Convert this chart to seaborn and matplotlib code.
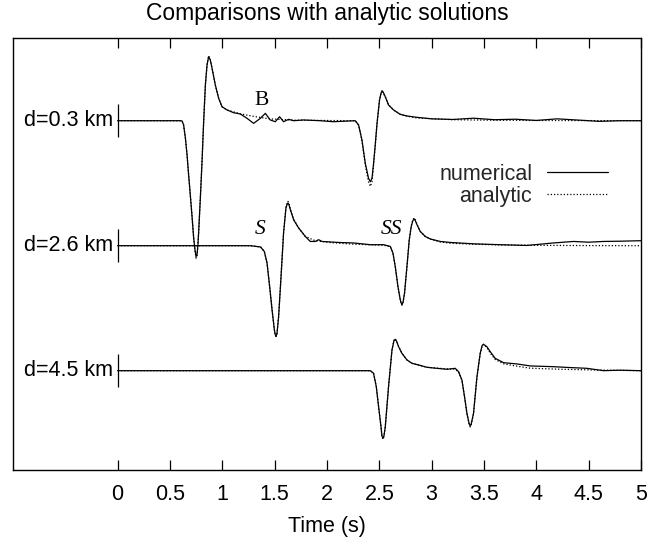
import matplotlib
matplotlib.use("Agg")
import numpy as np
import pandas as pd
import matplotlib.pyplot as plt
import seaborn as sns

# ---------------- data ----------------
trace_labels = ["d=0.3 km", "d=2.6 km", "d=4.5 km"]
trace_offsets = [3.0, 2.0, 1.0]

t03_num = [0.0, 0.601, 0.615, 0.630, 0.647, 0.663, 0.678, 0.694, 0.711, 0.726,
           0.739, 0.749, 0.758, 0.766, 0.774, 0.790, 0.806, 0.821, 0.838, 0.854,
           0.869, 0.885, 0.902, 0.933, 0.965, 0.997, 1.045, 1.108, 1.172, 1.236,
           1.299, 1.363, 1.411, 1.458, 1.506, 1.547, 1.585, 1.633, 1.681, 1.774,
           1.936, 2.060, 2.270, 2.302, 2.334, 2.366, 2.397, 2.414, 2.430, 2.445,
           2.461, 2.478, 2.502, 2.516, 2.525, 2.535, 2.557, 2.588, 2.636, 2.700,
           2.764, 2.860, 3.0, 3.2, 3.4, 3.6, 3.8, 4.0, 4.2, 4.4,
           4.6, 4.8, 5.0]
a03_num = [0, 0, -0.002, -0.034, -0.138, -0.274, -0.434, -0.594, -0.770, -0.938,
           -1.034, -1.088, -1.074, -1.002, -0.888, -0.618, -0.328, -0.018, 0.286, 0.446,
           0.512, 0.486, 0.419, 0.286, 0.179, 0.112, 0.086, 0.064, 0.054, 0.019,
           -0.021, 0.019, 0.059, 0.006, -0.008, 0.032, -0.008, 0.011, 0.0, 0.006,
           0.0, -0.008, 0.0, -0.034, -0.154, -0.341, -0.461, -0.488, -0.461, -0.341,
           -0.194, -0.021, 0.166, 0.219, 0.240, 0.232, 0.192, 0.126, 0.086, 0.051,
           0.038, 0.027, 0.015, 0.010, 0.020, 0.008, 0.012, 0.002, 0.015, 0.005,
           -0.005, 0.0, 0.0]
t03_ana = [0.0, 0.601, 0.615, 0.630, 0.647, 0.663, 0.678, 0.694, 0.711, 0.726,
           0.739, 0.749, 0.758, 0.766, 0.774, 0.790, 0.806, 0.821, 0.838, 0.854,
           0.869, 0.885, 0.902, 0.933, 0.965, 0.997, 1.045, 1.172, 1.299, 1.45,
           1.70, 2.270, 2.302, 2.334, 2.366, 2.397, 2.414, 2.430, 2.445, 2.461,
           2.478, 2.502, 2.516, 2.525, 2.535, 2.557, 2.588, 2.636, 2.700, 2.764,
           2.860, 3.2, 3.6, 4.0, 5.0]
a03_ana = [0, 0, -0.002, -0.034, -0.138, -0.274, -0.434, -0.594, -0.770, -0.938,
           -1.04, -1.10, -1.08, -1.005, -0.888, -0.618, -0.328, -0.018, 0.286, 0.45,
           0.52, 0.49, 0.419, 0.286, 0.179, 0.112, 0.086, 0.055, 0.035, 0.015,
           0.004, 0.0, -0.036, -0.16, -0.355, -0.49, -0.525, -0.49, -0.355, -0.2,
           -0.025, 0.166, 0.215, 0.232, 0.225, 0.19, 0.126, 0.086, 0.051, 0.036,
           0.022, 0.008, 0.004, 0.002, 0.0]

t26_num = [0.0, 1.267, 1.365, 1.401, 1.427, 1.452, 1.475, 1.497, 1.505, 1.513,
           1.522, 1.538, 1.561, 1.585, 1.608, 1.618, 1.627, 1.637, 1.650, 1.681,
           1.729, 1.793, 1.840, 1.888, 1.920, 1.952, 2.032, 2.111, 2.254, 2.414,
           2.541, 2.605, 2.630, 2.652, 2.678, 2.700, 2.707, 2.716, 2.726, 2.741,
           2.764, 2.786, 2.805, 2.821, 2.834, 2.843, 2.860, 2.891, 2.939, 2.987,
           3.082, 3.178, 3.40, 3.656, 3.910, 4.164, 4.355, 4.50, 4.642, 4.80,
           5.0]
a26_num = [0, 0, -0.010, -0.046, -0.138, -0.326, -0.512, -0.672, -0.71, -0.726,
           -0.704, -0.566, -0.246, 0.102, 0.302, 0.328, 0.342, 0.328, 0.288, 0.208,
           0.142, 0.074, 0.034, 0.034, 0.048, 0.034, 0.030, 0.026, 0.022, 0.008,
           0.008, -0.006, -0.058, -0.166, -0.326, -0.432, -0.454, -0.472, -0.454, -0.378,
           -0.166, 0.048, 0.154, 0.202, 0.214, 0.202, 0.168, 0.114, 0.074, 0.054,
           0.034, 0.026, 0.015, 0.008, 0.002, 0.022, 0.034, 0.028, 0.034, 0.036,
           0.040]
t26_ana = [0.0, 1.267, 1.365, 1.401, 1.427, 1.452, 1.475, 1.497, 1.505, 1.513,
           1.522, 1.538, 1.561, 1.585, 1.608, 1.618, 1.627, 1.637, 1.650, 1.681,
           1.729, 1.793, 1.888, 2.032, 2.254, 2.541, 2.605, 2.630, 2.652, 2.678,
           2.700, 2.707, 2.716, 2.726, 2.741, 2.764, 2.786, 2.805, 2.821, 2.834,
           2.843, 2.860, 2.891, 2.939, 2.987, 3.082, 3.178, 3.40, 3.656, 4.0,
           4.5, 5.0]
a26_ana = [0, 0, -0.010, -0.046, -0.138, -0.326, -0.512, -0.672, -0.71, -0.726,
           -0.704, -0.566, -0.246, 0.102, 0.31, 0.34, 0.355, 0.338, 0.295, 0.212,
           0.142, 0.074, 0.04, 0.025, 0.012, 0.004, -0.008, -0.06, -0.168, -0.33,
           -0.436, -0.458, -0.476, -0.458, -0.38, -0.168, 0.048, 0.16, 0.21, 0.222,
           0.21, 0.172, 0.114, 0.074, 0.052, 0.03, 0.02, 0.012, 0.006, 0.003,
           0.001, 0.0]

t45_num = [0.0, 2.414, 2.445, 2.471, 2.493, 2.516, 2.525, 2.535, 2.544, 2.557,
           2.588, 2.621, 2.640, 2.652, 2.665, 2.684, 2.716, 2.764, 2.812, 2.875,
           2.955, 3.051, 3.146, 3.225, 3.257, 3.289, 3.314, 3.337, 3.359, 3.369,
           3.378, 3.400, 3.433, 3.464, 3.483, 3.496, 3.509, 3.528, 3.560, 3.607,
           3.687, 3.815, 3.942, 4.164, 4.30, 4.483, 4.642, 4.80, 5.0]
a45_num = [0, 0, -0.021, -0.128, -0.288, -0.448, -0.522, -0.541, -0.522, -0.448,
           -0.128, 0.166, 0.240, 0.251, 0.235, 0.192, 0.139, 0.086, 0.059, 0.046,
           0.027, 0.019, 0.011, 0.019, -0.008, -0.074, -0.208, -0.341, -0.426, -0.442,
           -0.426, -0.341, -0.048, 0.139, 0.203, 0.211, 0.203, 0.192, 0.152, 0.099,
           0.064, 0.054, 0.038, 0.032, 0.026, 0.019, 0.0, 0.004, 0.0]
t45_ana = [0.0, 2.414, 2.445, 2.471, 2.493, 2.516, 2.525, 2.535, 2.544, 2.557,
           2.588, 2.621, 2.640, 2.652, 2.665, 2.684, 2.716, 2.764, 2.812, 2.875,
           2.955, 3.051, 3.146, 3.225, 3.257, 3.289, 3.314, 3.337, 3.359, 3.369,
           3.378, 3.400, 3.433, 3.464, 3.483, 3.496, 3.509, 3.528, 3.560, 3.607,
           3.687, 3.815, 3.942, 4.2, 4.6, 5.0]
a45_ana = [0, 0, -0.021, -0.128, -0.288, -0.448, -0.528, -0.548, -0.528, -0.448,
           -0.128, 0.166, 0.243, 0.255, 0.238, 0.195, 0.139, 0.086, 0.059, 0.044,
           0.028, 0.02, 0.015, 0.012, -0.01, -0.076, -0.21, -0.345, -0.433, -0.45,
           -0.433, -0.345, -0.05, 0.139, 0.203, 0.211, 0.2, 0.185, 0.14, 0.09,
           0.055, 0.036, 0.02, 0.012, 0.005, 0.0]

x_ticks = [0, 0.5, 1, 1.5, 2, 2.5, 3, 3.5, 4, 4.5, 5]
x_tick_labels = ["0", "0.5", "1", "1.5", "2", "2.5", "3", "3.5", "4", "4.5", "5"]

phase_labels = ["B", "S", "SS"]
phase_t = [1.379, 1.363, 2.621]
phase_y = [3.158, 2.128, 2.128]
phase_italic = [False, True, True]

# ---------------- build long table ----------------
num_series = [(t03_num, a03_num), (t26_num, a26_num), (t45_num, a45_num)]
ana_series = [(t03_ana, a03_ana), (t26_ana, a26_ana), (t45_ana, a45_ana)]
rows = []
for lab, off, (tn, an), (ta, aa) in zip(trace_labels, trace_offsets, num_series, ana_series):
    rows.append(pd.DataFrame({"t": tn, "y": np.array(an) + off, "trace": lab, "kind": "numerical"}))
    rows.append(pd.DataFrame({"t": ta, "y": np.array(aa) + off, "trace": lab, "kind": "analytic"}))
df = pd.concat(rows, ignore_index=True)

# ---------------- figure ----------------
sns.set_theme(style="white")
plt.rcParams["font.family"] = ["Liberation Sans", "DejaVu Sans"]

fig = plt.figure(figsize=(6.47, 5.37), dpi=100)
ax = fig.add_axes([0.0201, 0.1248, 0.9706, 0.8044])

FS = 15.5
styles = {"numerical": "-", "analytic": (0, (1, 1.6))}
handles = {}
for lab in trace_labels:
    for kind in ["analytic", "numerical"]:
        sub = df[(df.trace == lab) & (df.kind == kind)]
        sns.lineplot(data=sub, x="t", y="y", ax=ax, color="black", lw=0.9,
                     linestyle=styles[kind], estimator=None, sort=False, legend=False)
        handles[kind] = ax.lines[-1]

for lab, off in zip(trace_labels, trace_offsets):
    ax.vlines(0, off - 0.13, off + 0.13, color="black", lw=0.9)
    ax.text(-0.045, off, lab, ha="right", va="center", fontsize=FS, color="black")

for lab, tx, ty, it in zip(phase_labels, phase_t, phase_y, phase_italic):
    ax.text(tx, ty, lab, ha="center", va="center", fontsize=15.5,
            family="Liberation Serif", style="italic" if it else "normal", color="black")

ax.set_xlim(-1.0, 5.0)
ax.set_ylim(0.2056, 3.6616)
ax.set_xticks(x_ticks)
ax.set_xticklabels(x_tick_labels)
ax.set_yticks([])
ax.tick_params(axis="x", direction="in", length=7, width=0.9, top=True, bottom=True,
               labelsize=FS, pad=10, colors="black")
for s in ax.spines.values():
    s.set_visible(True)
    s.set_color("black")
    s.set_linewidth(1.0)
ax.set_xlabel("Time (s)", fontsize=FS, color="black", labelpad=8)
ax.set_ylabel("")
ax.set_title("Comparisons with analytic solutions", fontsize=16.5, color="black", pad=13)

leg = ax.legend([handles["numerical"], handles["analytic"]], ["numerical", "analytic"],
                loc="center right", bbox_to_anchor=(0.947, 0.659), frameon=False,
                markerfirst=False, fontsize=FS, handlelength=2.8, handletextpad=0.7,
                labelspacing=0.06, borderpad=0, borderaxespad=0)

fig.savefig("out.png", dpi=100)
